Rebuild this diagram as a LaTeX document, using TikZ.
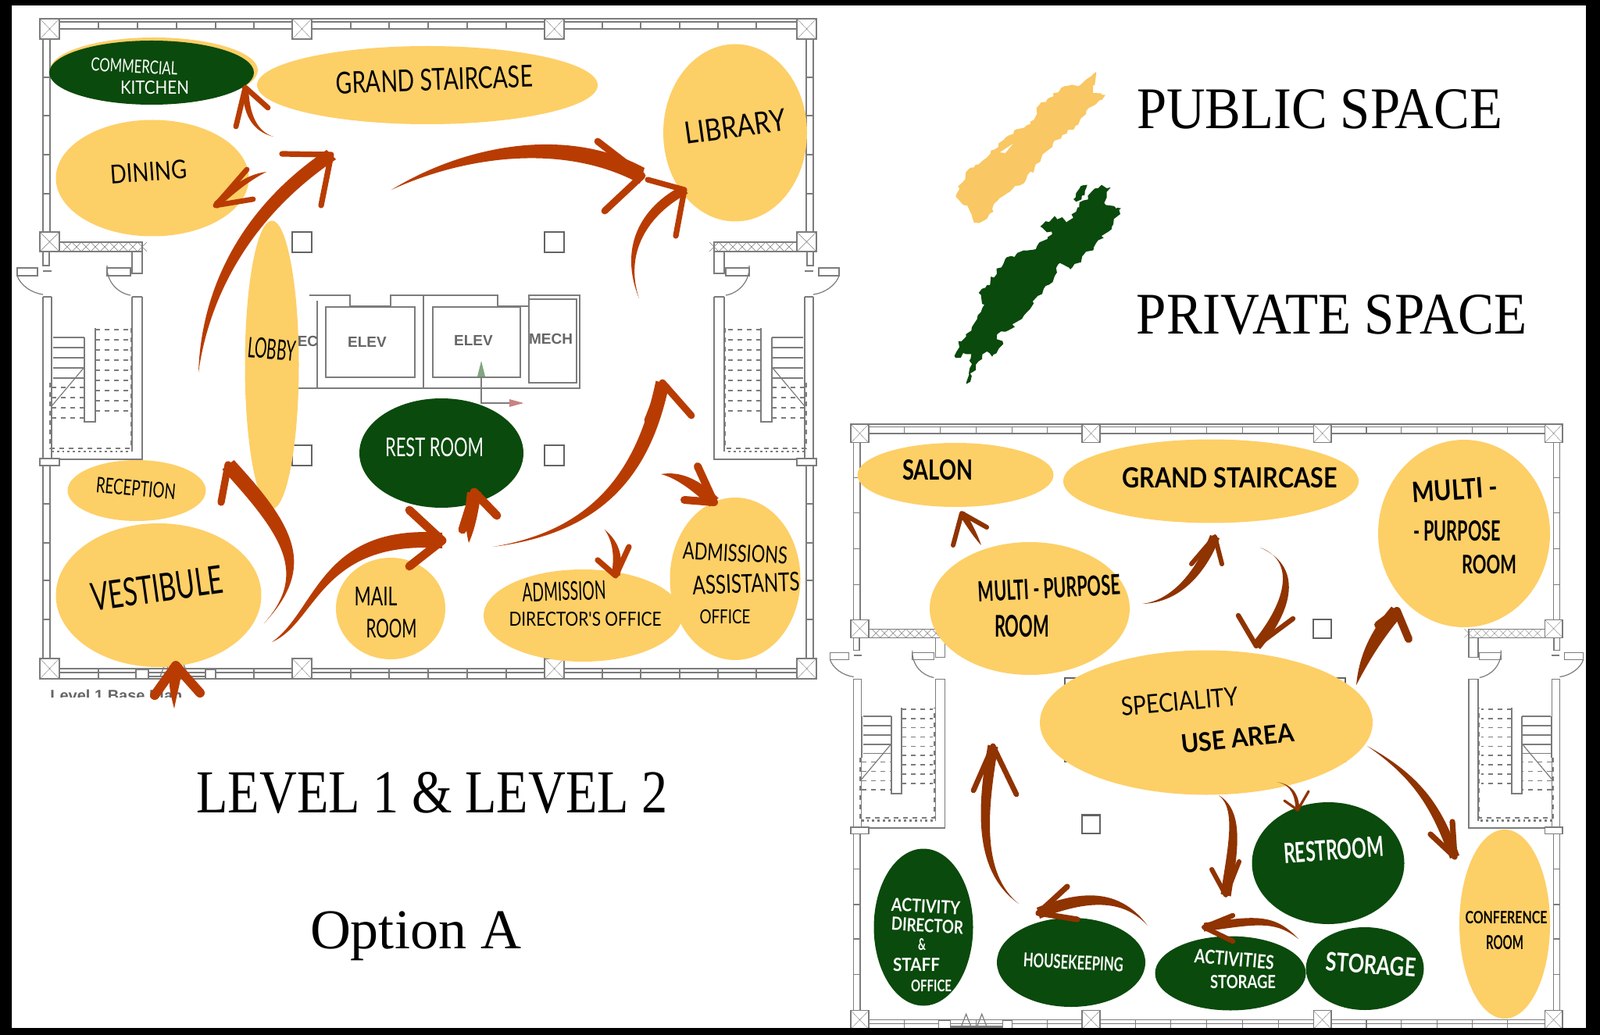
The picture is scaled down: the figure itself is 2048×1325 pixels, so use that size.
\documentclass[tikz,border=0pt]{standalone}
\usepackage{fontspec}
\usepackage{graphicx}
\usetikzlibrary{shapes.geometric,calc,decorations.pathmorphing}
\setmainfont{Liberation Serif}
\newfontfamily\handfont{Lato}
\newfontfamily\planfont{Liberation Sans}

\definecolor{pubyellow}{HTML}{FDCF67}
\definecolor{brushyellow}{HTML}{F9C763}
\definecolor{privgreen}{HTML}{0A4A0C}
\definecolor{flowup}{HTML}{B83C02}
\definecolor{flowlow}{HTML}{8F3300}
\definecolor{wallgray}{HTML}{7C7C7C}

\tikzset{
  wall/.style={draw=wallgray,line width=.6pt},
  column/.style={draw=wallgray!80!black,line width=1.1pt,fill=white},
  pub/.style 2 args={ellipse,fill=pubyellow,inner sep=0,minimum width=.5*#1 pt,minimum height=.5*#2 pt},
  priv/.style 2 args={ellipse,fill=privgreen,inner sep=0,minimum width=.5*#1 pt,minimum height=.5*#2 pt},
  hand/.style={inner sep=0,text=black,font=\handfont},
  handw/.style={inner sep=0,text=white,font=\handfont},
  handb/.style={inner sep=0,text=black,font=\handfont\bfseries},
  handwb/.style={inner sep=0,text=white,font=\handfont\bfseries},
  flowa/.style={color=flowup,line cap=round,line join=round},
  flowb/.style={color=flowlow,line cap=round,line join=round},
  title/.style={inner sep=0,text=black},
  planlab/.style={inner sep=0,text=black!60,font=\planfont\bfseries},
}

% text of a given width and height, both in pixels of the reference
\newcommand{\lab}[3]{\resizebox{\dimexpr#1pt/2\relax}{\dimexpr#2pt/2\relax}{#3}}

% style, start, control, control, tip, thickness at the tip, two barbs
\newcommand{\brushflow}[8]{
  \fill[#1] (#2) .. controls ($(#3)-0.4*(#6)$) and ($(#4)-0.5*(#6)$) .. ($(#5)-0.5*(#6)$) -- ($(#5)+0.5*(#6)$)
     .. controls ($(#4)+0.5*(#6)$) and ($(#3)+0.4*(#6)$) .. (#2) -- cycle;
  \draw[#1,fill=none] (#7) -- (#5) -- (#8);
}

\newcommand{\stairtower}{
  \draw[wall] (76,310) rectangle (182,322);
  \foreach \x in {80,92,...,176} \draw[wall,line width=.2pt] (\x,310) -- (\x+12,322) (\x+12,310) -- (\x,322);
  \draw[wall] (182,322) -- (182,350) -- (169,350) -- (169,322) -- (63,322) -- (63,340) -- (55,340) -- (55,297);
  \draw[wall] (55,380) -- (55,587) (66,380) -- (66,587) (169,380) -- (169,578) (182,380) -- (182,587);
  \draw[wall] (55,380) -- (66,380) (169,380) -- (182,380) (55,347) -- (66,347);
  \draw[wall] (22,343) rectangle (48,353) (137,343) rectangle (167,353);
  \draw[wall] (22,353) .. controls (26,365) and (40,375) .. (55,377);
  \draw[wall] (137,340) .. controls (136,360) and (150,375) .. (167,378);
  % flights of steps
  \foreach \y in {432,445,...,484} \draw[wall,line width=.9pt] (68,\y) -- (108,\y);
  \foreach \y in {496,509,522,535} \draw[wall,line width=.9pt,dashed] (66,\y) -- (108,\y);
  \foreach \y in {422,435,...,535} \draw[wall,line width=.9pt,dashed] (122,\y) -- (165,\y);
  \draw[wall,line width=.9pt] (66,432) -- (66,490) (108,432) -- (108,540) -- (122,540) -- (122,420);
  \draw[wall] (66,520) -- (108,470);
  \draw[wall,dashed,line width=.9pt] (64,490) -- (64,574) -- (168,574) -- (168,420);
  \draw[wall,line width=1.4pt,dotted] (66,578) -- (168,578);
  \draw[wall] (51,588) -- (182,588) -- (182,587);
  \draw[wall,fill=white] (51,297) rectangle (76,322);
  \draw[wall,line width=.2pt] (51,297) -- (76,322) (76,297) -- (51,322);
  \draw[wall,fill=white] (51,587) rectangle (76,596);
}

\newcommand{\floorplan}{
  \draw[wall,line width=1.2pt] (51,24) -- (1045,24) (51,869) -- (1045,869);
  \draw[wall] (51,28) -- (1045,28) (51,37) -- (1045,37) (51,856) -- (1045,856) (51,861) -- (1045,861);
  \foreach \x in {126,176,226,276,325,449,498,548,598,648,771,820,870,919,968}{
    \draw[wall] (\x,28) -- (\x,37);
    \draw[wall] (\x,856) -- (\x,869);
  }
  \foreach \a in {55,64,1032,1041}{
    \draw[wall] (\a,50) -- (\a,297);
    \draw[wall] (\a,596) -- (\a,843);
  }
  \foreach \a/\b in {55/64,1032/1041}{
    \foreach \y in {99,148,198,248} \draw[wall] (\a,\y) -- (\b,\y);
    \foreach \y in {645,695,743,793} \draw[wall] (\a,\y) -- (\b,\y);
  }
  \foreach \x in {51,374,697,1020}
    \foreach \y in {24,843}{
      \draw[wall,fill=white] (\x,\y) rectangle +(25,26);
      \draw[wall,line width=.2pt] (\x,\y) -- +(25,26) (\x+25,\y) -- +(-25,26);
    }
  \foreach \x in {374,697}
    \foreach \y in {297,570}
      \draw[column] (\x,\y) rectangle +(25,26);
  \stairtower
  \begin{scope}[shift={(1096,0)},xscale=-1]
    \stairtower
  \end{scope}
  % entrance
  \draw[wall,fill=white] (174,857) rectangle (190,869) (263,857) rectangle (276,869);
  \draw[wall,line width=1.4pt] (190,866) -- (263,866);
  \draw[wall] (205,866) -- (212,848) -- (219,866) (227,866) -- (234,848) -- (241,866);
}

\begin{document}
\begin{tikzpicture}[x=.5pt,y=-.5pt]
\useasboundingbox (0,0) rectangle (2048,1325);
\fill[white] (0,0) rectangle (2048,1325);

\floorplan
\begin{scope}[shift={(1042.3,521)},scale=.9165]
  \floorplan
\end{scope}
\draw[column,line width=.9pt] (1363,868) rectangle (1722,975);

% core of level 1
\draw[wall,line width=1.2pt] (396,378) -- (448,378) -- (448,392) -- (500,392) -- (500,378) -- (542,378) -- (542,497);
\draw[wall,line width=1.2pt] (542,378) -- (637,378) -- (637,392) -- (677,392) -- (677,378) -- (742,378) -- (742,497) -- (382,497);
\draw[wall,line width=1pt] (417,393) rectangle (531,483) (554,393) rectangle (666,483);
\draw[wall,line width=1pt] (406,385) -- (406,497) (677,383) -- (677,490) -- (738,490) -- (738,383) -- cycle;
\node[planlab,font=\planfont\bfseries\fontsize{9.5}{10}\selectfont] (ecdoor) at (394,437) {EC};
\node[planlab,font=\planfont\bfseries\fontsize{9.5}{10}\selectfont] (elevone) at (470,438) {ELEV};
\node[planlab,font=\planfont\bfseries\fontsize{9.5}{10}\selectfont] (elevtwo) at (606,436) {ELEV};
\node[planlab,font=\planfont\bfseries\fontsize{9.5}{10}\selectfont] (mech) at (705,434) {MECH};
\draw[wall,line width=.7pt] (668,516) -- (616,516) -- (616,482);
\fill[green!30!black!50] (616,462) -- (611,482) -- (621,482) -- cycle;
\fill[red!40!gray!70] (670,516) -- (652,511) -- (652,521) -- cycle;
\begin{scope}
  \clip (60,880) rectangle (240,892);
  \node[planlab,anchor=base west,font=\planfont\bfseries\fontsize{10}{11}\selectfont] (planname) at (64,897) {Level 1 Base Plan};
\end{scope}

% level 1 rooms
\fill[pubyellow] (197,90) ellipse (133 and 42);
\node[priv={262}{82}] (kitchen) at (194,93) {};
\node[pub={436}{100}] (grandone) at (547,109) {};
\node[pub={184}{227}] (library) at (941,170) {};
\node[pub={247}{149}] (dining) at (195,228) {};
\node[pub={69}{369}] (lobby) at (348,467) {};
\node[pub={177}{78}] (reception) at (175,628) {};
\node[pub={263}{184}] (vestibule) at (203,762) {};
\node[priv={210}{140}] (restone) at (565,580) {};
\node[pub={140}{130}] (mail) at (500,779) {};
\node[pub={254}{118}] (director) at (746,788) {};
\node[pub={167}{208}] (assistant) at (941,741) {};

% level 2 rooms
\node[pub={251}{82}] (salon) at (1223,608) {};
\node[pub={378}{107}] (grandtwo) at (1550,616) {};
\node[pub={220}{240}] (multiright) at (1874,683) {};
\node[pub={256}{170}] (multileft) at (1318,779) {};
\node[pub={426}{185}] (speciality) at (1544,925) {};
\node[priv={195}{156}] (resttwo) at (1700,1105) {};
\node[priv={127}{201}] (activity) at (1182,1187) {};
\node[priv={190}{114}] (housekeep) at (1371,1232) {};
\node[priv={193}{95}] (actstorage) at (1575,1246) {};
\node[priv={151}{106}] (storage) at (1747,1240) {};
\node[pub={116}{242}] (conference) at (1926,1183) {};

% level 1 flows
\brushflow{flowa,line width=3.4pt}{350,175}{325,168}{315,145}{314,112}{8,0}{302,162}{343,138}
\brushflow{flowa,line width=3.4pt}{341,220}{322,226}{305,236}{276,263}{4,8}{316,217}{324,255}
\brushflow{flowa,line width=3.6pt}{254,477}{262,380}{310,275}{424,198}{12,12}{361,197}{411,263}
\brushflow{flowa,line width=4.4pt}{501,243}{590,195}{720,170}{822,225}{-6,20}{765,181}{774,270}
\brushflow{flowa,line width=3.6pt}{818,382}{795,320}{825,270}{876,243}{9,9}{829,230}{865,302}
\brushflow{flowa,line width=6pt}{223,907}{222,880}{224,870}{225,852}{16,0}{198,890}{256,887}
\brushflow{flowa,line width=4.6pt}{338,798}{400,730}{370,680}{292,595}{-15,12}{283,643}{321,620}
\brushflow{flowa,line width=5.4pt}{348,822}{405,790}{410,680}{566,692}{0,20}{524,653}{524,725}
\brushflow{flowa,line width=5.4pt}{600,695}{602,675}{604,650}{607,630}{18,0}{592,678}{636,660}
\brushflow{flowa,line width=4.4pt}{631,700}{770,680}{825,600}{848,490}{17,5}{829,538}{885,532}
\brushflow{flowa,line width=3.6pt}{774,678}{790,695}{792,715}{788,737}{11,0}{765,717}{805,700}
\brushflow{flowa,line width=5pt}{846,607}{868,607}{890,620}{914,643}{-11,11}{893,597}{876,640}

% level 2 flows
\brushflow{flowb,line width=3pt}{1256,698}{1248,685}{1240,670}{1231,657}{-7,4}{1220,698}{1263,675}
\brushflow{flowb,line width=3pt}{1462,773}{1507,770}{1538,730}{1555,687}{12,4}{1525,722}{1564,722}
\brushflow{flowb,line width=3.2pt}{1613,701}{1660,720}{1655,770}{1608,827}{10,8}{1585,788}{1655,792}
\brushflow{flowb,line width=5pt}{1736,877}{1745,845}{1760,815}{1788,782}{14,11}{1764,800}{1803,818}
\brushflow{flowb,line width=3.6pt}{1750,955}{1818,997}{1840,1037}{1862,1097}{-12,4}{1831,1068}{1859,1052}
\brushflow{flowb,line width=1.6pt}{1634,1001}{1656,1005}{1660,1020}{1661,1037}{5,0}{1644,1025}{1675,1013}
\brushflow{flowb,line width=3pt}{1560,1018}{1588,1037}{1578,1087}{1569,1146}{13,3}{1551,1113}{1586,1103}
\brushflow{flowb,line width=3.2pt}{1662,1202}{1631,1173}{1606,1178}{1541,1187}{0,11}{1578,1172}{1578,1205}
\brushflow{flowb,line width=3.6pt}{1469,1185}{1438,1147}{1394,1143}{1329,1169}{4,14}{1366,1135}{1379,1177}
\brushflow{flowb,line width=3.4pt}{1304,1157}{1251,1117}{1257,1037}{1271,955}{13,3}{1246,1012}{1301,1017}

% level 1 lettering
\node[handw,rotate=-3] (kitchenone) at (172,85) {\lab{111}{17}{COMMERCIAL}};
\node[handw] (kitchentwo) at (198,112) {\lab{88}{17}{KITCHEN}};
\node[hand,rotate=2] (grandonetxt) at (556,102) {\lab{252}{28}{GRAND STAIRCASE}};
\node[hand,rotate=8] (librarytxt) at (941,162) {\lab{130}{28}{LIBRARY}};
\node[hand,rotate=4] (diningtxt) at (190,220) {\lab{98}{24}{DINING}};
\node[hand,rotate=-5] (lobbytxt) at (348,447) {\lab{62}{26}{LOBBY}};
\node[hand,rotate=-5] (receptiontxt) at (174,625) {\lab{102}{20}{RECEPTION}};
\node[hand,rotate=8] (vestibuletxt) at (201,753) {\lab{170}{36}{VESTIBULE}};
\node[handw] (restonetxt) at (556,573) {\lab{126}{24}{REST ROOM}};
\node[hand] (mailtxt) at (481,763) {\lab{55}{24}{MAIL}};
\node[hand] (mailtwo) at (501,805) {\lab{65}{24}{ROOM}};
\node[hand,rotate=2] (directorone) at (722,757) {\lab{107}{24}{ADMISSION}};
\node[hand] (directortwo) at (749,793) {\lab{195}{18}{DIRECTOR'S OFFICE}};
\node[hand,rotate=-3] (assistantone) at (941,708) {\lab{134}{22}{ADMISSIONS}};
\node[hand,rotate=2] (assistanttwo) at (955,747) {\lab{137}{24}{ASSISTANTS}};
\node[hand] (assistantthree) at (928,790) {\lab{65}{18}{OFFICE}};

% level 2 lettering
\node[handb] (salontxt) at (1200,602) {\lab{90}{26}{SALON}};
\node[handb] (grandtwotxt) at (1574,612) {\lab{275}{26}{GRAND STAIRCASE}};
\node[handb,rotate=4] (multirone) at (1862,627) {\lab{110}{26}{MULTI -}};
\node[handb] (multirtwo) at (1865,680) {\lab{112}{26}{- PURPOSE}};
\node[handb] (multirthree) at (1906,723) {\lab{70}{24}{ROOM}};
\node[handb,rotate=3] (multilone) at (1343,753) {\lab{182}{26}{MULTI - PURPOSE}};
\node[handb] (multiltwo) at (1308,802) {\lab{70}{28}{ROOM}};
\node[hand,rotate=5] (specialone) at (1510,898) {\lab{150}{24}{SPECIALITY}};
\node[handb,rotate=6] (specialtwo) at (1584,945) {\lab{145}{24}{USE AREA}};
\node[handwb,rotate=4] (resttwotxt) at (1707,1088) {\lab{128}{26}{RESTROOM}};
\node[handwb,rotate=-3] (activityone) at (1185,1160) {\lab{88}{17}{ACTIVITY}};
\node[handwb,rotate=-3] (activitytwo) at (1187,1185) {\lab{92}{17}{DIRECTOR}};
\node[handwb] (activitythree) at (1180,1209) {\lab{10}{15}{\&}};
\node[handwb] (activityfour) at (1173,1235) {\lab{60}{17}{STAFF}};
\node[handwb] (activityfive) at (1192,1262) {\lab{52}{15}{OFFICE}};
\node[handwb,rotate=-3] (housekeeptxt) at (1374,1232) {\lab{128}{18}{HOUSEKEEPING}};
\node[handwb,rotate=-5] (actstorageone) at (1580,1228) {\lab{102}{18}{ACTIVITIES}};
\node[handwb] (actstoragetwo) at (1591,1257) {\lab{84}{17}{STORAGE}};
\node[handwb,rotate=-4] (storagetxt) at (1755,1235) {\lab{115}{24}{STORAGE}};
\node[handb] (conferencetxt) at (1928,1175) {\lab{105}{16}{CONFERENCE}};
\node[handb] (conferencetwo) at (1926,1207) {\lab{48}{18}{ROOM}};

% legend
\begin{scope}[shift={(1180,60)},scale=.3333]
  \fill[brushyellow,decorate,decoration={random steps,segment length=2.5pt,amplitude=1.3pt}]
    (130,575) -- (170,480) -- (250,425) -- (320,350) -- (430,280) -- (440,235) -- (550,150) -- (610,145) -- (670,95)
    -- (650,180) -- (705,185) -- (640,235) -- (600,300) -- (510,360) -- (480,400) -- (400,510) -- (300,580)
    -- (250,660) -- (200,675) -- (175,610) -- cycle;
  \fill[white] (300,405) -- (350,372) -- (320,408) -- cycle;
  \fill[privgreen,decorate,decoration={random steps,segment length=2.5pt,amplitude=1.6pt}]
    (130,1195) -- (140,1130) -- (190,1090) -- (215,1030) -- (240,990) -- (218,945) -- (250,915) -- (320,815) -- (440,770)
    -- (500,720) -- (455,690) -- (510,650) -- (560,670) -- (620,590) -- (690,530) -- (725,540) -- (700,600)
    -- (765,620) -- (730,690) -- (660,770) -- (570,855) -- (530,830) -- (510,880) -- (420,1000) -- (330,1090)
    -- (270,1100) -- (310,1130) -- (270,1190) -- (250,1170) -- (170,1295) -- (190,1180) -- (170,1180) -- cycle;
  \fill[privgreen,decorate,decoration={random steps,segment length=2pt,amplitude=1pt}]
    (582,585) -- (610,535) -- (635,530) -- (625,570) -- (592,595) -- cycle;
\end{scope}

% titles
\node[title] (public) at (1689,140) {\lab{468}{50}{PUBLIC SPACE}};
\node[title] (private) at (1705,403) {\lab{500}{50}{PRIVATE SPACE}};
\node[title] (levels) at (553,1015) {\lab{603}{52}{LEVEL 1 \& LEVEL 2}};
\node[title,anchor=base] (option) at (532,1214) {\fontsize{36}{40}\selectfont Option A};

\fill[black,even odd rule] (0,0) rectangle (2048,1325) (15,7) rectangle (2030,1316);
\end{tikzpicture}
\end{document}
